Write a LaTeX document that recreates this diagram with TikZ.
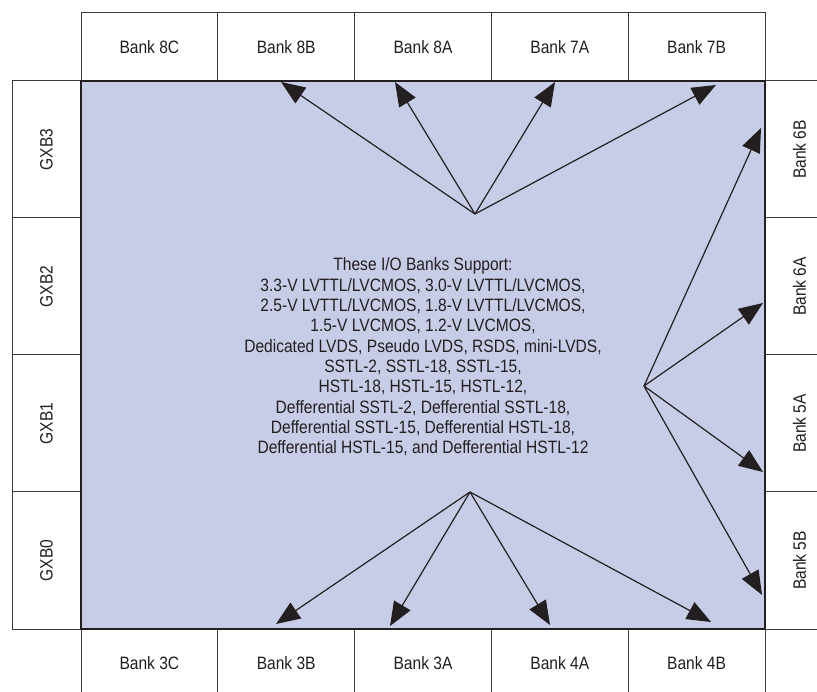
\documentclass[tikz,border=0pt]{standalone}
\usepackage{fontspec}
\setmainfont{Liberation Sans}
\newfontfamily\narrowsans[FakeStretch=0.87]{Liberation Sans}
\usetikzlibrary{arrows.meta}
\definecolor{ink}{HTML}{231F20}
\definecolor{boxline}{HTML}{3A3A3A}
\definecolor{core}{HTML}{C8CDE7}
\begin{document}
\begin{tikzpicture}[x=1pt,y=-1pt,
  lblfont/.style={font=\narrowsans\fontsize{17.9}{20.3}\selectfont},
  bankh/.style={draw=boxline,line width=1pt,fill=white,inner sep=0pt,
    minimum width=136.8pt,minimum height=68pt,text=ink,lblfont},
  bankv/.style={draw=boxline,line width=1pt,fill=white,inner sep=0pt,
    minimum width=69pt,minimum height=137pt},
  vlabel/.style={rotate=90,text=ink,inner sep=0pt,lblfont},
  conn/.style={draw=ink,line width=1.2pt,-{Triangle[length=24pt,width=19pt]}}]
\useasboundingbox (0,0) rectangle (817,692);
\clip (0,0) rectangle (817,692);
% top row
\node[bankh] (b8C) at (149.4,47) {Bank 8C};
\node[bankh] (b8B) at (286.2,47) {Bank 8B};
\node[bankh] (b8A) at (423.0,47) {Bank 8A};
\node[bankh] (b7A) at (559.8,47) {Bank 7A};
\node[bankh] (b7B) at (696.6,47) {Bank 7B};
% bottom row
\node[bankh] (b3C) at (149.4,663) {Bank 3C};
\node[bankh] (b3B) at (286.2,663) {Bank 3B};
\node[bankh] (b3A) at (423.0,663) {Bank 3A};
\node[bankh] (b4A) at (559.8,663) {Bank 4A};
\node[bankh] (b4B) at (696.6,663) {Bank 4B};
% left column
\node[bankv] (g3) at (46.5,149.5) {};
\node[bankv] (g2) at (46.5,286.5) {};
\node[bankv] (g1) at (46.5,423.5) {};
\node[bankv] (g0) at (46.5,560.5) {};
\node[vlabel] (lg3) at (g3.center) {GXB3};
\node[vlabel] (lg2) at (g2.center) {GXB2};
\node[vlabel] (lg1) at (g1.center) {GXB1};
\node[vlabel] (lg0) at (g0.center) {GXB0};
% right column
\node[bankv] (b6B) at (799.5,149.5) {};
\node[bankv] (b6A) at (799.5,286.5) {};
\node[bankv] (b5A) at (799.5,423.5) {};
\node[bankv] (b5B) at (799.5,560.5) {};
\node[vlabel] (l6B) at (b6B.center) {Bank 6B};
\node[vlabel] (l6A) at (b6A.center) {Bank 6A};
\node[vlabel] (l5A) at (b5A.center) {Bank 5A};
\node[vlabel] (l5B) at (b5B.center) {Bank 5B};
% core area
\draw[draw=ink,line width=2pt,fill=core] (81,81) rectangle (765,629);
\node[text=ink,align=center,inner sep=0pt,lblfont] (txt) at (423,357)
 {These I/O Banks Support:\\
  3.3-V LVTTL/LVCMOS, 3.0-V LVTTL/LVCMOS,\\
  2.5-V LVTTL/LVCMOS, 1.8-V LVTTL/LVCMOS,\\
  1.5-V LVCMOS, 1.2-V LVCMOS,\\
  Dedicated LVDS, Pseudo LVDS, RSDS, mini-LVDS,\\
  SSTL-2, SSTL-18, SSTL-15,\\
  HSTL-18, HSTL-15, HSTL-12,\\
  Defferential SSTL-2, Defferential SSTL-18,\\
  Defferential SSTL-15, Defferential HSTL-18,\\
  Defferential HSTL-15, and Defferential HSTL-12};
% sources and tips
\coordinate (st) at (475,214);
\coordinate (sr) at (644,386);
\coordinate (sb) at (470,492);
\coordinate (t8B) at (281,82);
\coordinate (t8A) at (395,82);
\coordinate (t7A) at (555,82);
\coordinate (t7B) at (716,85);
\coordinate (t6B) at (761,128);
\coordinate (t6A) at (763,303);
\coordinate (t5A) at (763,472);
\coordinate (t5B) at (762,595);
\coordinate (t3B) at (276,624);
\coordinate (t3A) at (390,626);
\coordinate (t4A) at (550,625);
\coordinate (t4B) at (711,622);
\foreach \t in {t8B,t8A,t7A,t7B} \draw[conn] (st) -- (\t);
\foreach \t in {t6B,t6A,t5A,t5B} \draw[conn] (sr) -- (\t);
\foreach \t in {t3B,t3A,t4A,t4B} \draw[conn] (sb) -- (\t);
\end{tikzpicture}
\end{document}
